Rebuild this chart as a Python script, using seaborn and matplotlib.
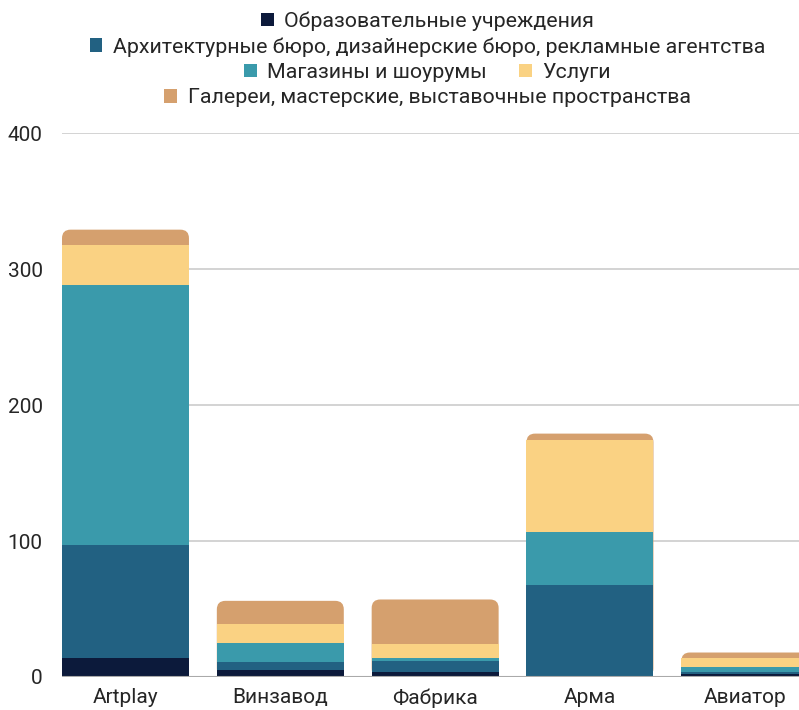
import numpy as np
import pandas as pd
import matplotlib
matplotlib.use('Agg')
import matplotlib.pyplot as plt
from matplotlib.patches import Patch, FancyBboxPatch
import seaborn as sns

# data
places = ['Artplay', 'Винзавод', 'Фабрика', 'Арма', 'Авиатор']
education = [14, 5, 4, 0, 2]
architecture = [83, 6, 8, 68, 2]
shops = [191, 14, 2, 39, 3]
services = [30, 14, 10, 67, 7]
galleries = [11, 17, 33, 5, 4]

series_names = ['Образовательные учреждения',
                'Архитектурные бюро, дизайнерские бюро, рекламные агентства',
                'Магазины и шоурумы', 'Услуги',
                'Галереи, мастерские, выставочные пространства']
colors = ['#0c1a3b', '#226182', '#3a9aab', '#fad283', '#d5a06e']

df = pd.DataFrame({'place': places, series_names[0]: education, series_names[1]: architecture,
                   series_names[2]: shops, series_names[3]: services, series_names[4]: galleries})

sns.set_theme(style='white')
plt.rcParams['font.family'] = ['Roboto', 'DejaVu Sans']

fig = plt.figure(figsize=(7.99, 7.10), dpi=100)
ax = fig.add_axes([0.0776, 0.0465, 0.9224, 0.766])

#stacked bars: draw cumulative totals from the top layer down
cum = df[series_names].cumsum(axis=1)
first = True
for name, col in reversed(list(zip(series_names, colors))):
    sns.barplot(x=df['place'], y=cum[name], color=col, width=0.82, ax=ax,
                saturation=1, linewidth=0, zorder=3)
    if first:
        #round the top corners of the whole stack
        for p in list(ax.patches):
            fb = FancyBboxPatch((p.get_x(), p.get_y()), p.get_width(), p.get_height(),
                                boxstyle='round,pad=0,rounding_size=0.055',
                                mutation_aspect=114, facecolor=col, linewidth=0, zorder=3)
            p.remove()
            ax.add_patch(fb)
        first = False

ax.set_ylim(0, 400)
ax.set_xlim(-0.41, 4.35)
ax.set_yticks([0, 100, 200, 300, 400])
ax.yaxis.grid(True, color='#cccccc', linewidth=1.2, zorder=0)
ax.set_axisbelow(True)
for s in ax.spines.values():
    s.set_visible(False)
ax.axhline(0, color='#aaaaaa', linewidth=1.5, zorder=4)
ax.set_xlabel('')
ax.set_ylabel('')
ax.tick_params(axis='y', labelsize=15, pad=14, length=0)
ax.tick_params(axis='x', labelsize=15, pad=8, length=0)

#legend rows, centered above the chart
handles = [Patch(facecolor=c, edgecolor='none') for c in colors]
rows = [([0], 0.970), ([1], 0.934), ([2, 3], 0.898), ([4], 0.862)]
for idx, y in rows:
    leg = fig.legend([handles[i] for i in idx], [series_names[i] for i in idx],
                     loc='center', bbox_to_anchor=(0.535, y), ncol=len(idx),
                     frameon=False, fontsize=15.4, handlelength=0.6, handleheight=0.6,
                     handletextpad=0.5, columnspacing=1.5, borderpad=0, borderaxespad=0)

fig.savefig('out.png', dpi=100)
